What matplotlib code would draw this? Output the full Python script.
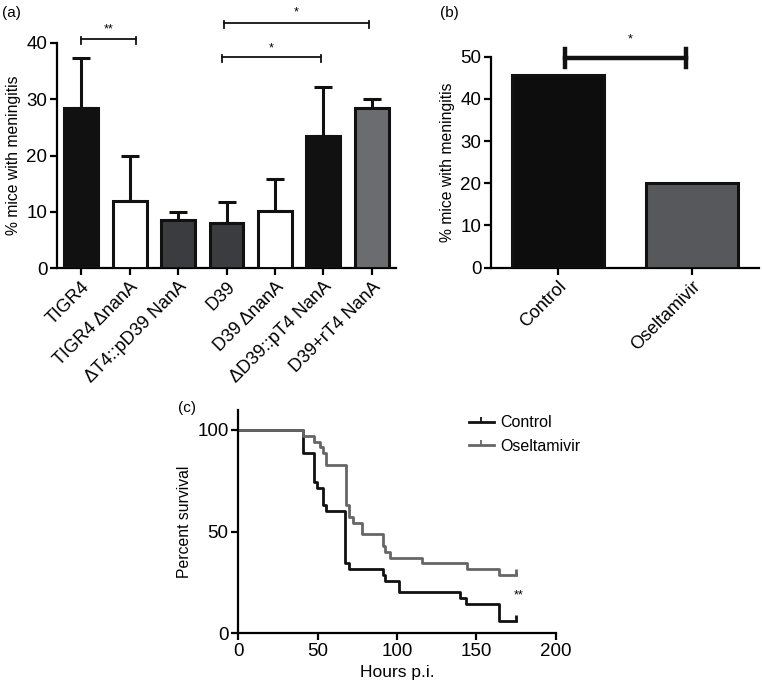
import matplotlib.pyplot as plt
import numpy as np

plt.rcParams['font.family'] = ['Liberation Sans', 'DejaVu Sans']

# panel (a)
strains = ["TIGR4", "TIGR4 \u0394nanA", "\u0394T4::pD39 NanA", "D39",
           "D39 \u0394nanA", "\u0394D39::pT4 NanA", "D39+rT4 NanA"]
meningitis_a = [28.5, 12.0, 8.5, 8.1, 10.1, 23.4, 28.5]
err_a = [8.8, 8.0, 1.5, 3.6, 5.7, 8.8, 1.5]
colors_a = ["#111111", "#ffffff", "#3b3c3f", "#3b3c3f", "#ffffff", "#111111", "#6b6c6f"]

# panel (b)
groups_b = ["Control", "Oseltamivir"]
meningitis_b = [45.7, 20.0]
colors_b = ["#0d0d0d", "#56585b"]

# panel (c) survival steps
ctrl_t = [0, 41, 48, 49.5, 53.5, 55, 67, 69.5, 91, 92.5, 101, 140, 143.5, 164.5, 175]
ctrl_s = [100, 88.6, 74.3, 71.4, 62.9, 60, 34.3, 31.4, 28.6, 25.7, 20, 17.1, 14.3, 5.7, 5.7]
osel_t = [0, 41, 48, 51.5, 53.5, 55.5, 68, 69.5, 72, 78, 91, 92.5, 95.5, 116, 144, 164.5, 175]
osel_s = [100, 97.1, 94.3, 91.4, 88.6, 82.9, 62.9, 57.1, 54.3, 48.6, 42.9, 40, 37.1, 34.3, 31.4, 28.6, 28.6]


def style(ax):
    for s in ["top", "right"]:
        ax.spines[s].set_visible(False)
    for s in ["left", "bottom"]:
        ax.spines[s].set_linewidth(1.6)
    ax.tick_params(width=1.6, length=5, labelsize=13.5, pad=2)


fig = plt.figure(figsize=(7.62, 6.85), dpi=100)
W, H = 762, 685


def box(l, r, b, t):
    return [l / W, 1 - b / H, (r - l) / W, (b - t) / H]


# (a)
ax1 = fig.add_axes(box(57, 396, 268.3, 42.7))
x = np.arange(len(strains))
ax1.bar(x, meningitis_a, width=0.7, color=colors_a, edgecolor="#111111", linewidth=2.2, zorder=3)
ax1.errorbar(x, meningitis_a, yerr=[np.zeros(len(x)), err_a], fmt="none", ecolor="#111111",
             elinewidth=2.2, capsize=6.5, capthick=2.2, zorder=2)
ax1.set_xlim(-0.5, 6.5)
ax1.set_ylim(0, 40)
ax1.set_yticks([0, 10, 20, 30, 40])
ax1.set_xticks(x)
ax1.set_xticklabels(strains, rotation=45, ha="right", rotation_mode="anchor")
ax1.set_ylabel("% mice with meningitis", fontsize=11.3, labelpad=4)
style(ax1)
ax1.tick_params(axis="x", labelsize=13)


def bracket(ax, x1, x2, y, h, lw, txt, ty):
    ax.plot([x1, x2], [y, y], color="#111111", lw=lw, clip_on=False)
    ax.plot([x1, x1], [y - h, y + h * 0.4], color="#111111", lw=lw, clip_on=False)
    ax.plot([x2, x2], [y - h, y + h * 0.4], color="#111111", lw=lw, clip_on=False)
    ax.text((x1 + x2) / 2, ty, txt, ha="center", va="center", fontsize=9, clip_on=False)


bracket(ax1, 0, 1.13, 40.6, 0.9, 1.3, "**", 42.4)
bracket(ax1, 2.9, 4.95, 37.5, 0.9, 1.3, "*", 38.9)
bracket(ax1, 2.94, 5.94, 43.5, 0.9, 1.3, "*", 45.4)

# (b)
ax2 = fig.add_axes(box(491, 759, 267.7, 56.7))
xb = np.arange(len(groups_b))
ax2.bar(xb, meningitis_b, width=0.68, color=colors_b, edgecolor="#111111", linewidth=2.2, zorder=3)
ax2.set_xlim(-0.5, 1.5)
ax2.set_ylim(0, 50)
ax2.set_yticks([0, 10, 20, 30, 40, 50])
ax2.set_xticks(xb)
ax2.set_xticklabels(groups_b, rotation=45, ha="right", rotation_mode="anchor")
ax2.set_ylabel("% mice with meningitis", fontsize=11.3, labelpad=4)
style(ax2)
ax2.tick_params(axis="x", labelsize=13)
ax2.plot([0.05, 0.955], [49.8, 49.8], color="#111111", lw=3.2, clip_on=False)
ax2.plot([0.05, 0.05], [47.6, 51.8], color="#111111", lw=3.2, clip_on=False)
ax2.plot([0.955, 0.955], [47.6, 51.8], color="#111111", lw=3.2, clip_on=False)
ax2.text(0.54, 54, "*", ha="center", va="center", fontsize=9)

# (c)
ax3 = fig.add_axes(box(238.3, 555.7, 633, 409.7))
ax3.step(ctrl_t, ctrl_s, where="post", color="#111111", lw=2.0, label="Control")
ax3.step(osel_t, osel_s, where="post", color="#666666", lw=2.0, label="Oseltamivir")
ax3.plot([ctrl_t[-1]], [ctrl_s[-1]], marker=2, ms=4, mew=2.0, color="#111111")
ax3.plot([osel_t[-1]], [osel_s[-1]], marker=2, ms=4, mew=2.0, color="#666666")
ax3.set_xlim(0, 200)
ax3.set_ylim(0, 110)
ax3.set_yticks([0, 50, 100])
ax3.set_xticks([0, 50, 100, 150, 200])
ax3.set_xlabel("Hours p.i.", fontsize=12.5)
ax3.set_ylabel("Percent survival", fontsize=11.3)
style(ax3)
ax3.text(176.5, 18.7, "**", ha="center", va="center", fontsize=9)
h1, = ax3.plot([], [], color="#111111", lw=2.0, marker=2, ms=3.5, mew=1.3)
h2, = ax3.plot([], [], color="#666666", lw=2.0, marker=2, ms=3.5, mew=1.3)
ax3.legend([h1, h2], ["Control", "Oseltamivir"], loc="upper left", bbox_to_anchor=(0.68, 1.04),
           frameon=False, handlelength=1.6, handletextpad=0.4, fontsize=11.5, labelspacing=0.55)

fig.text(2 / W, 1 - 13 / H, "(a)", fontsize=11, va="center")
fig.text(440 / W, 1 - 13 / H, "(b)", fontsize=11, va="center")
fig.text(178 / W, 1 - 408 / H, "(c)", fontsize=11, va="center")

fig.savefig("out.png", dpi=100)
